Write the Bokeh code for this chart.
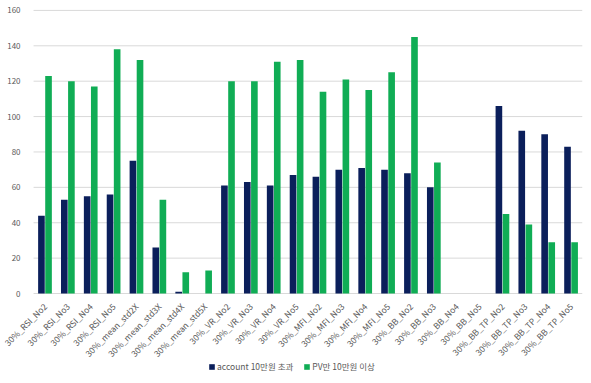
from math import pi
from bokeh.plotting import figure
from bokeh.models import (ColumnDataSource, Legend, LegendItem, Range1d, LinearAxis,
                          FixedTicker)
from bokeh.transform import dodge
from bokeh.embed import file_html
from bokeh.resources import INLINE

categories = ["30%_RSI_No2", "30%_RSI_No3", "30%_RSI_No4", "30%_RSI_No5",
              "30%_mean_std2X", "30%_mean_std3X", "30%_mean_std4X", "30%_mean_std5X",
              "30%_VR_No2", "30%_VR_No3", "30%_VR_No4", "30%_VR_No5",
              "30%_MFI_No2", "30%_MFI_No3", "30%_MFI_No4", "30%_MFI_No5",
              "30%_BB_No2", "30%_BB_No3", "30%_BB_No4", "30%_BB_No5",
              "30%_BB_TP_No2", "30%_BB_TP_No3", "30%_BB_TP_No4", "30%_BB_TP_No5"]
account = [44, 53, 55, 56, 75, 26, 1, 0, 61, 63, 61, 67, 66, 70, 71, 70, 68, 60, 0, 0, 106, 92, 90, 83]
pv = [123, 120, 117, 138, 132, 53, 12, 13, 120, 120, 131, 132, 114, 121, 115, 125, 145, 74, 0, 0, 45, 39, 29, 29]
series_names = ["account 10만원 초과", "PV만 10만원 이상"]
y_ticks = [0, 20, 40, 60, 80, 100, 120, 140, 160]

NAVY = "#0B1F5B"
GREEN = "#10AD55"
GRID = "#D9D9D9"
FONT = "Noto Sans CJK KR"
TXT = "#595959"

n = len(categories)
idx = list(range(n))
src = ColumnDataSource(dict(idx=idx, account=account, pv=pv))

p = figure(x_range=Range1d(-1.77, n - 0.5), y_range=Range1d(-45.2, 165.6),
           frame_width=578, frame_height=373, output_backend="svg", toolbar_location=None,
           x_axis_location=None, y_axis_location=None,
           min_border_left=4, min_border_right=1, min_border_top=0, min_border_bottom=0)
p.xgrid.grid_line_color = None
p.ygrid.grid_line_color = None
p.outline_line_color = None

# horizontal gridlines spanning the category area only
p.segment(x0=-0.5, x1=n - 0.5, y0=y_ticks, y1=y_ticks, line_color=GRID, line_width=1)

r1 = p.vbar(x=dodge("idx", -0.155), top="account", width=0.29, source=src,
            fill_color=NAVY, line_color=None)
r2 = p.vbar(x=dodge("idx", 0.155), top="pv", width=0.29, source=src,
            fill_color=GREEN, line_color=None)

yaxis = LinearAxis(fixed_location=-0.5, ticker=FixedTicker(ticks=y_ticks))
yaxis.axis_line_color = None
yaxis.major_tick_line_color = None
yaxis.minor_tick_line_color = None
yaxis.major_label_text_font = FONT
yaxis.major_label_text_font_size = "8px"
yaxis.major_label_text_color = TXT
yaxis.major_label_standoff = 7
p.add_layout(yaxis, "left")

xaxis = LinearAxis(fixed_location=0, ticker=FixedTicker(ticks=idx),
                   major_label_overrides={i: c for i, c in zip(idx, categories)})
xaxis.axis_line_color = None
xaxis.major_tick_line_color = None
xaxis.minor_tick_line_color = None
xaxis.major_label_orientation = pi / 4
xaxis.major_label_text_font = FONT
xaxis.major_label_text_font_size = "8.5px"
xaxis.major_label_text_color = TXT
xaxis.major_label_standoff = 5
p.add_layout(xaxis, "below")

legend = Legend(items=[LegendItem(label=series_names[0], renderers=[r1]),
                       LegendItem(label=series_names[1], renderers=[r2])],
                orientation="horizontal", location=(204, 1),
                label_text_font=FONT, label_text_font_size="8.5px", label_text_color=TXT,
                glyph_width=7, glyph_height=7, label_standoff=2, spacing=10,
                background_fill_alpha=0, border_line_color=None, padding=1, margin=0,
                label_height=10)
p.add_layout(legend, "center")

open("out.html", "w").write(file_html(p, INLINE))
